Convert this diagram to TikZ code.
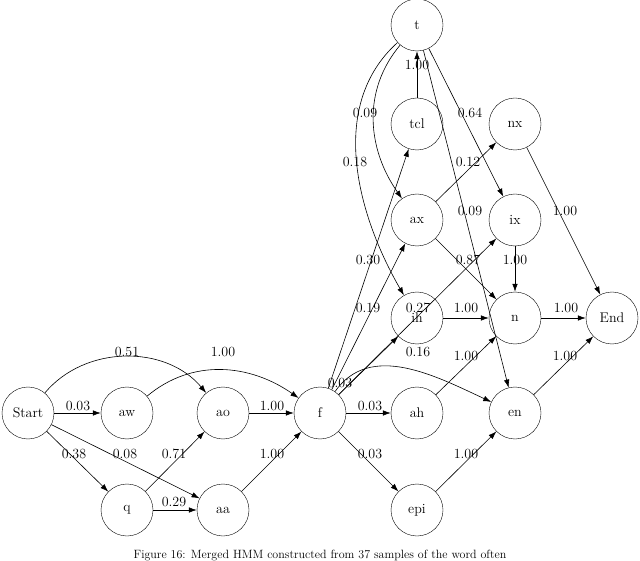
\documentclass[tikz,border=0pt]{standalone}
\usetikzlibrary{arrows.meta}
\begin{document}
\begin{tikzpicture}[x=1pt,y=-1pt,
 st/.style={circle,draw,minimum size=52pt,inner sep=0pt,font=\fontsize{14}{16}\selectfont},
 e/.style={-{Latex[length=8pt,width=5.5pt]},line width=0.6pt},
 lb/.style={font=\fontsize{14}{16}\selectfont,inner sep=0pt}]
\useasboundingbox (0,0) rectangle (640,561);
\node[st] (t) at (417,25) {t};
\node[st] (tcl) at (417,124) {tcl};
\node[st] (nx) at (515,124) {nx};
\node[st] (ax) at (417,220) {ax};
\node[st] (ix) at (515,220) {ix};
\node[st] (ih) at (417,318) {ih};
\node[st] (n) at (515,318) {n};
\node[st] (End) at (612,318) {End};
\node[st] (Start) at (28,413) {Start};
\node[st] (aw) at (127,413) {aw};
\node[st] (ao) at (223,413) {ao};
\node[st] (f) at (320,413) {f};
\node[st] (ah) at (417,413) {ah};
\node[st] (en) at (515,413) {en};
\node[st] (q) at (127,510) {q};
\node[st] (aa) at (223,510) {aa};
\node[st] (epi) at (417,510) {epi};
\draw[e] (Start) -- (aw);
\draw[e] (Start) to[out=50,in=130] (ao);
\draw[e] (Start) -- (q);
\draw[e] (Start) -- (aa);
\draw[e] (aw) to[out=40,in=145] (f);
\draw[e] (ao) -- (f);
\draw[e] (q) -- (ao);
\draw[e] (q) -- (aa);
\draw[e] (aa) -- (f);
\draw[e] (f) -- (tcl);
\draw[e] (f) -- (ax);
\draw[e] (f) -- (ih);
\draw[e] (f) -- (ix);
\draw[e] (f) to[out=55,in=155] (en);
\draw[e] (f) -- (ah);
\draw[e] (f) -- (epi);
\draw[e] (tcl) -- (t);
\draw[e] (t) to[out=230,in=125] (ax);
\draw[e] (t) to[out=222,in=120,looseness=0.95] (ih);
\draw[e] (t) -- (ix);
\draw[e] (t) -- (en);
\draw[e] (ax) -- (nx);
\draw[e] (ax) -- (n);
\draw[e] (ix) -- (n);
\draw[e] (ih) -- (n);
\draw[e] (ah) -- (n);
\draw[e] (n) -- (End);
\draw[e] (nx) -- (End);
\draw[e] (en) -- (End);
\draw[e] (epi) -- (en);
\node[lb] (l1) at (417,65) {1.00};
\node[lb] (l2) at (365,113) {0.09};
\node[lb] (l3) at (355,162) {0.18};
\node[lb] (l4) at (470,113) {0.64};
\node[lb] (l5) at (468,162) {0.12};
\node[lb] (l6) at (470,211) {0.09};
\node[lb] (l7) at (565,211) {1.00};
\node[lb] (l8) at (368,260) {0.30};
\node[lb] (l9) at (468,260) {0.87};
\node[lb] (l10) at (515,260) {1.00};
\node[lb] (l11) at (368,308) {0.19};
\node[lb] (l12) at (418,308) {0.27};
\node[lb] (l13) at (466,308) {1.00};
\node[lb] (l14) at (566,308) {1.00};
\node[lb] (l15) at (340,383) {0.03};
\node[lb] (l16) at (418,352) {0.16};
\node[lb] (l17) at (466,356) {1.00};
\node[lb] (l18) at (565,356) {1.00};
\node[lb] (l19) at (127,352) {0.51};
\node[lb] (l20) at (223,352) {1.00};
\node[lb] (l21) at (78,406) {0.03};
\node[lb] (l22) at (272,406) {1.00};
\node[lb] (l23) at (370,406) {0.03};
\node[lb] (l24) at (74,454) {0.38};
\node[lb] (l25) at (125,454) {0.08};
\node[lb] (l26) at (174,454) {0.71};
\node[lb] (l27) at (272,454) {1.00};
\node[lb] (l28) at (370,454) {0.03};
\node[lb] (l29) at (466,454) {1.00};
\node[lb] (l30) at (174,502) {0.29};
\node[font=\large,anchor=base] (cap) at (320,558) {Figure 16: Merged HMM constructed from 37 samples of the word often};
\end{tikzpicture}
\end{document}
